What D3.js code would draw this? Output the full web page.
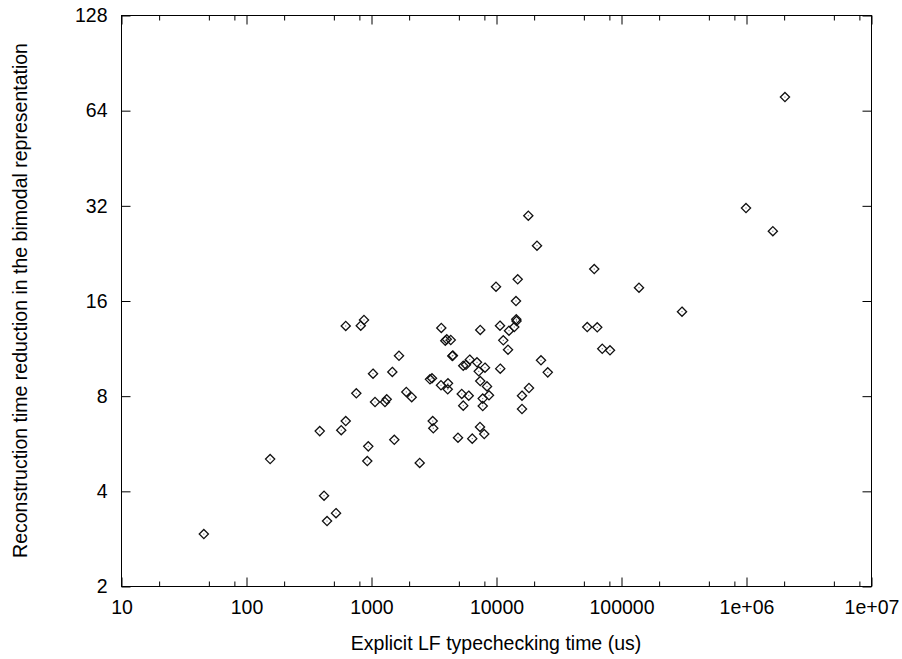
<!DOCTYPE html>
<html><head><meta charset="utf-8">
<script src="https://cdn.jsdelivr.net/npm/d3@7"></script>
<style>body{margin:0;background:#fff}svg{display:block}text{font-family:"Liberation Sans",Arial,sans-serif;fill:#000}</style>
</head><body>
<svg id="c" width="902" height="659"></svg>
<script>
const xValues = [
  46,156,389,421,445,525,578,628,628,828,
  879,763,951,934,1038,1077,1294,1336,1481,1536,
  1675,1916,2117,2453,2965,3076,3117,3150,3631,3651,
  3930,4036,4130,4111,4345,4470,4966,5321,5470,5470,
  5754,6051,6166,6457,7047,7278,7447,7482,7482,7834,
  7834,8054,8166,8472,8790,10000,10765,10815,11436,12474,
  12706,14000,14528,14590,14454,14918,16144,16144,18133,18365,
  21281,22909,25942,53703,61094,64565,70795,81658,139316,307610,
  1000000,1640000,2050000,4520
];
const yValues = [
  2.92,5.04,6.18,3.86,3.21,3.40,6.22,6.65,13.29,13.32,
  13.88,8.14,5.53,4.97,9.39,7.64,7.64,7.79,9.51,5.80,
  10.70,8.22,7.91,4.90,9.01,9.08,6.65,6.31,8.63,13.10,
  11.94,12.06,8.75,8.38,12.0,10.68,5.89,8.10,9.95,7.44,
  10.02,8.0,10.40,5.85,10.20,9.55,6.37,8.90,12.91,7.83,
  7.42,6.05,9.81,8.56,8.02,17.69,13.32,9.74,11.97,11.18,
  12.84,13.19,13.95,13.78,15.94,18.67,8.0,7.26,29.67,8.46,
  23.85,10.35,9.48,13.19,20.12,13.16,11.26,11.13,17.56,14.75,
  31.38,26.5,70.4,10.72
];
const xTicks = [10,100,1000,10000,100000,1000000,10000000];
const xTickLabels = ["10","100","1000","10000","100000","1e+06","1e+07"];
const xMinorMult = [2,5,8];
const yTicks = [2,4,8,16,32,64,128];
const xTitle = "Explicit LF typechecking time (us)";
const yTitle = "Reconstruction time reduction in the bimodal representation";

const L=121, R=871, T=15, B=586;
const svg = d3.select("#c");
const x = d3.scaleLog().base(10).domain([10,1e7]).range([L,R]);
const y = d3.scaleLog().base(2).domain([2,128]).range([B,T]);

const majLen=9, minLen=5;
const g = svg.append("g");
// minor x ticks
const minor=[];
for(let i=0;i<xTicks.length-1;i++) xMinorMult.forEach(m=>minor.push(xTicks[i]*m));
const axB = d3.axisBottom(x).tickValues(minor).tickSize(-minLen).tickFormat("");
const axT = d3.axisTop(x).tickValues(minor).tickSize(-minLen).tickFormat("");
svg.append("g").attr("transform",`translate(0.5,${B+0.5})`).call(axB);
svg.append("g").attr("transform",`translate(0.5,${T+0.5})`).call(axT);
// major x ticks
svg.append("g").attr("class","xb").attr("transform",`translate(0.5,${B+0.5})`)
  .call(d3.axisBottom(x).tickValues(xTicks).tickSize(-majLen).tickPadding(14)
  .tickFormat((d,i)=>xTickLabels[i]));
svg.append("g").attr("transform",`translate(0.5,${T+0.5})`)
  .call(d3.axisTop(x).tickValues(xTicks).tickSize(-majLen).tickFormat(""));
// y ticks
svg.append("g").attr("class","yl").attr("transform",`translate(${L+0.5},0.5)`)
  .call(d3.axisLeft(y).tickValues(yTicks).tickSize(-majLen).tickPadding(14).tickFormat(d3.format("d")));
svg.append("g").attr("transform",`translate(${R+0.5},0.5)`)
  .call(d3.axisRight(y).tickValues(yTicks).tickSize(-majLen).tickFormat(""));
svg.selectAll(".domain").remove();
svg.selectAll(".tick line").attr("stroke","#000").attr("stroke-width",1);
svg.selectAll(".tick text").attr("font-size","19.5px").attr("font-family","Liberation Sans, Arial, sans-serif").attr("fill","#000");
svg.selectAll(".xb .tick text").attr("dy","0.71em");
// frame
svg.append("rect").attr("x",L+0.5).attr("y",T+0.5).attr("width",R-L).attr("height",B-T)
  .attr("fill","none").attr("stroke","#000").attr("stroke-width",1);

// points
const pts = xValues.map((v,i)=>[v,yValues[i]]);
const s=4.6;
const pg = svg.append("g");
pg.selectAll("path.pt").data(pts).join("path").attr("class","pt")
  .attr("d",d=>{const cx=x(d[0]),cy=y(d[1]);return `M${cx},${cy-s}L${cx+s},${cy}L${cx},${cy+s}L${cx-s},${cy}Z`;})
  .attr("fill","none").attr("stroke","#111").attr("stroke-width",1.3);
pg.selectAll("rect.dot").data(pts).join("rect").attr("class","dot")
  .attr("x",d=>x(d[0])-0.5).attr("y",d=>y(d[1])-0.5).attr("width",1).attr("height",1).attr("fill","#555");

// titles
svg.append("text").attr("x",(L+R)/2).attr("y",650).attr("text-anchor","middle")
  .attr("font-size","19.5px").text(xTitle);
svg.append("text").attr("transform",`translate(27,${(T+B)/2}) rotate(-90)`).attr("text-anchor","middle")
  .attr("font-size","19.5px").text(yTitle);
</script>
</body></html>
